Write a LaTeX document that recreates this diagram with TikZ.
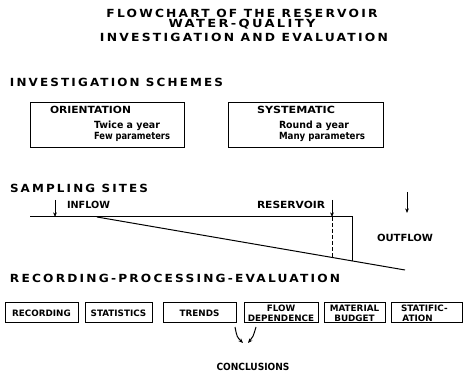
\documentclass[tikz,border=0pt]{standalone}
\usepackage{fontspec}
\setmainfont{DejaVu Sans}
\usetikzlibrary{arrows.meta}
\newdimen\pxu \pxu=0.75pt
\newcommand\fw[2]{\resizebox{#1\pxu}{\height}{#2}}
\newcommand\spaced{\addfontfeature{LetterSpace=18}}
\begin{document}
\begin{tikzpicture}[x=0.75pt,y=-0.75pt,
  line width=0.75pt,
  every node/.style={inner sep=0pt, outer sep=0pt},
  ttl/.style={font=\bfseries\fontsize{8.4}{9}\selectfont\spaced},
  hd/.style={anchor=west, font=\bfseries\fontsize{8.4}{9}\selectfont\spaced},
  sm/.style={anchor=west, font=\bfseries\fontsize{7.4}{8}\selectfont},
  bbox/.style 2 args={draw, minimum width=#1*0.75pt, minimum height=#2*0.75pt,
     font=\bfseries\fontsize{6.6}{7.4}\selectfont, align=center},
  arr/.style={-{Stealth[length=3.5pt,width=2.8pt]}}]
\useasboundingbox (0,0) rectangle (463,373);
% title
\node[ttl] (t1) at (242,13.5) {\fw{271}{FLOWCHART OF THE RESERVOIR}};
\node[ttl] (t2) at (242,24.5) {\fw{147}{WATER-QUALITY}};
\node[ttl] (t3) at (244,37.5) {\fw{288}{INVESTIGATION AND EVALUATION}};
% investigation schemes
\node[hd] (h1) at (10,82) {\fw{213}{INVESTIGATION SCHEMES}};
\node[draw, minimum width=154*0.75pt, minimum height=45*0.75pt] (ori) at (107,125.5) {};
\node[sm] (orit) at (50,110) {\fw{81}{ORIENTATION}};
\node[sm] (ori1) at (94,126) {\fw{66}{Twice a year}};
\node[sm] (ori2) at (94,137) {\fw{76}{Few parameters}};
\node[draw, minimum width=155*0.75pt, minimum height=45*0.75pt] (sys) at (305.5,125.5) {};
\node[sm] (syst) at (257,110) {\fw{78}{SYSTEMATIC}};
\node[sm] (sys1) at (279,126) {\fw{70}{Round a year}};
\node[sm] (sys2) at (279,137) {\fw{86}{Many parameters}};
% sampling sites
\node[hd] (h2) at (10,188) {\fw{138}{SAMPLING SITES}};
\coordinate (l0) at (30,217);
\coordinate (l1) at (352,217);
\coordinate (s0) at (97,217);
\coordinate (s1) at (405,270);
\coordinate (r1) at (332,258);
\coordinate (r0) at (332,217);
\coordinate (v1) at (352,261);
\draw (l0) -- (l1) -- (v1);
\draw (s0) -- (s1);
\draw[dash pattern=on 3pt off 1.5pt] (r0) -- (r1);
\coordinate (ia) at (55,200);
\coordinate (ib) at (55,217);
\draw[arr] (ia) -- (ib);
\coordinate (ra) at (332,200);
\draw[arr] (ra) -- (r0);
\coordinate (oa) at (407,192);
\coordinate (ob) at (407,213);
\draw[arr] (oa) -- (ob);
\node[sm] (inf) at (67,205) {\fw{43}{INFLOW}};
\node[sm] (res) at (257,205) {\fw{68}{RESERVOIR}};
\node[sm] (out) at (377,238) {\fw{56}{OUTFLOW}};
% recording
\node[hd] (h3) at (10,278) {\fw{330}{RECORDING-PROCESSING-EVALUATION}};
\node[bbox={73}{20}] (b1) at (41.5,313) {RECORDING};
\node[bbox={67}{20}] (b2) at (118.5,313) {STATISTICS};
\node[bbox={73}{20}] (b3) at (199.5,313) {TRENDS};
\node[bbox={74}{20}] (b4) at (281,313) {FLOW\\DEPENDENCE};
\node[bbox={61}{20}] (b5) at (354.5,313) {MATERIAL\\BUDGET};
\node[bbox={71}{20}] (b6) at (426.5,313) {};
\node[sm, align=left, font=\bfseries\fontsize{6.6}{7.4}\selectfont] (b6t) at (401,313) {STATIFIC-\\ \,ATION};
\node[sm, anchor=center] (con) at (253,367) {\fw{73}{CONCLUSIONS}};
\coordinate (ca) at (235,327);
\coordinate (cb) at (256,327);
\coordinate (cc) at (243,343);
\coordinate (cd) at (248,343);
\draw[arr] (ca) .. controls (237,337) .. (cc);
\draw[arr] (cb) .. controls (253,337) .. (cd);
\end{tikzpicture}
\end{document}
